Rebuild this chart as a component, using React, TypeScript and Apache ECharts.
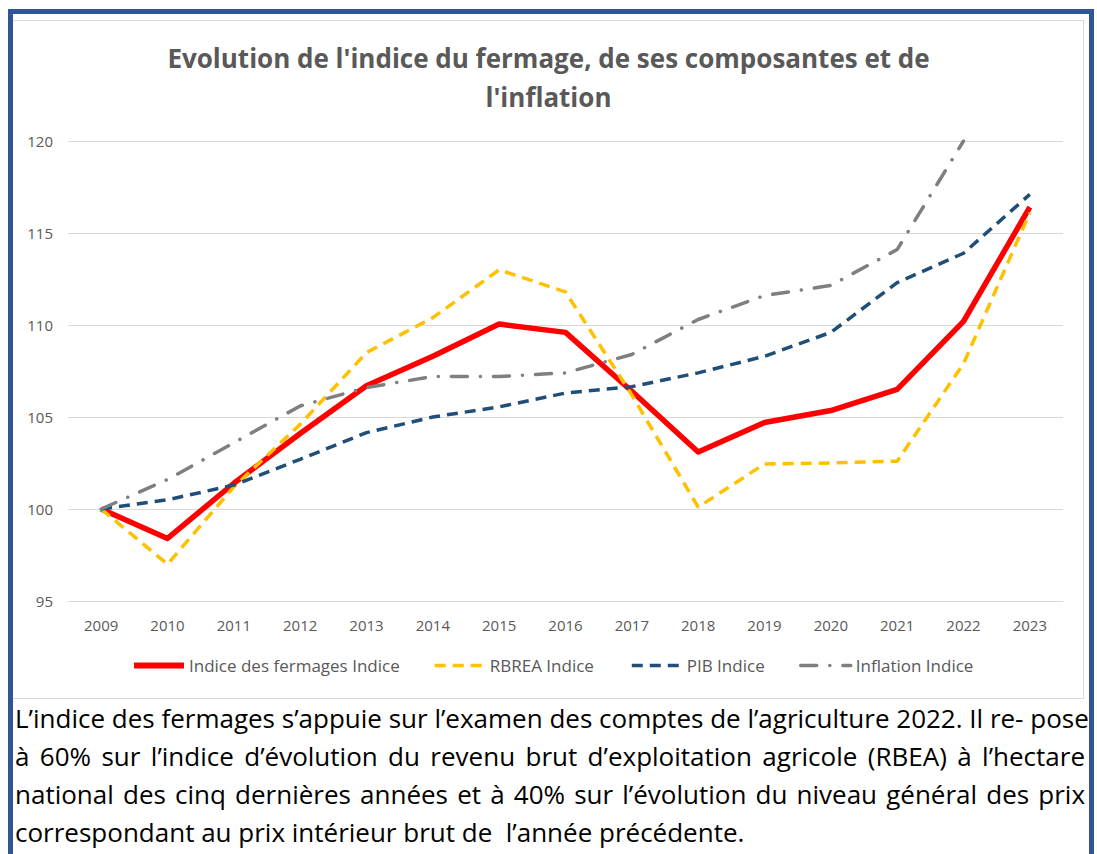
import React, { useEffect, useRef } from "react";
import * as echarts from "echarts";

const years = ["2009", "2010", "2011", "2012", "2013", "2014", "2015", "2016", "2017", "2018", "2019", "2020", "2021", "2022", "2023"];
const fermages = [100, 98.4, 101.4, 104.1, 106.7, 108.3, 110.05, 109.6, 106.4, 103.1, 104.7, 105.35, 106.5, 110.2, 116.4];
const rbrea = [100, 97.0, 101.2, 104.6, 108.5, 110.4, 113.0, 111.8, 106.2, 100.1, 102.45, 102.5, 102.6, 107.9, 116.1];
const pib = [100, 100.5, 101.3, 102.7, 104.15, 105.0, 105.55, 106.3, 106.65, 107.4, 108.3, 109.6, 112.3, 113.9, 117.1];
const inflation: (number | null)[] = [100, 101.6, 103.6, 105.6, 106.6, 107.2, 107.2, 107.4, 108.4, 110.3, 111.6, 112.15, 114.1, 120.0, null];

const seriesNames = ["Indice des fermages Indice", "RBREA Indice", "PIB Indice", "Inflation Indice"];
const yTicks = { min: 95, max: 120, interval: 5 };

const titleLines = ["Evolution de l'indice du fermage, de ses composantes et de", "l'inflation"];
const noteLines = [
  "L’indice des fermages s’appuie sur l’examen des comptes de l’agriculture 2022. Il re- pose",
  "à 60% sur l’indice d’évolution du revenu brut d’exploitation agricole (RBEA) à l’hectare",
  "national des cinq dernières années et à 40% sur l’évolution du niveau général des prix",
  "correspondant au prix intérieur brut de  l’année précédente.",
];

const FONT = "'Open Sans', 'Noto Sans', sans-serif";
const GREY_TEXT = "#595959";

export default function App() {
  const ref = useRef<HTMLDivElement>(null);

  useEffect(() => {
    if (!ref.current) return;
    const chart = echarts.init(ref.current, null, { renderer: "svg" });
    const legendLefts = [131, 433, 630, 799];
    const legendLineWidths = [6, 3.5, 3.5, 3.5];
    const titleTops = [40, 79];
    chart.setOption({
      animation: false,
      backgroundColor: "transparent",
      textStyle: { fontFamily: FONT },
      title: titleLines.map((t, i) => ({
        text: t,
        left: "center",
        top: titleTops[i],
        padding: 0,
        textStyle: {
          fontFamily: FONT,
          fontSize: 26,
          fontWeight: "bold",
          color: GREY_TEXT,
          lineHeight: 36,
        },
      })),
      legend: seriesNames.map((n, i) => ({
        data: [n],
        left: legendLefts[i],
        top: 657,
        padding: 0,
        itemWidth: 50,
        itemHeight: 14,
        itemStyle: { opacity: 0 },
        lineStyle: { width: legendLineWidths[i] },
        textStyle: { fontFamily: FONT, fontSize: 17, color: GREY_TEXT },
      })),
      grid: { left: 68, right: 34, top: 141, bottom: 253, containLabel: false },
      xAxis: {
        type: "category",
        data: years,
        boundaryGap: true,
        axisLine: { show: true, lineStyle: { color: "#D9D9D9", width: 1 } },
        axisTick: { show: false },
        axisLabel: { color: GREY_TEXT, fontSize: 15, fontFamily: FONT, margin: 16 },
      },
      yAxis: {
        type: "value",
        min: yTicks.min,
        max: yTicks.max,
        interval: yTicks.interval,
        axisLine: { show: false },
        axisTick: { show: false },
        splitLine: { lineStyle: { color: "#D9D9D9", width: 1 } },
        axisLabel: { color: GREY_TEXT, fontSize: 15, fontFamily: FONT, margin: 15 },
      },
      series: [
        {
          name: seriesNames[0],
          type: "line",
          data: fermages,
          symbol: "none",
          color: "#FF0000",
          lineStyle: { color: "#FF0000", width: 5.5, join: "round" },
        },
        {
          name: seriesNames[1],
          type: "line",
          data: rbrea,
          symbol: "none",
          color: "#FFC000",
          lineStyle: { color: "#FFC000", width: 3.5, type: [11, 7] },
        },
        {
          name: seriesNames[2],
          type: "line",
          data: pib,
          symbol: "none",
          color: "#1F4E79",
          lineStyle: { color: "#1F4E79", width: 3.5, type: [11, 7] },
        },
        {
          name: seriesNames[3],
          type: "line",
          data: inflation,
          symbol: "none",
          color: "#7F7F7F",
          connectNulls: false,
          lineStyle: { color: "#7F7F7F", width: 3.5, type: [16, 13, 0.1, 13], cap: "round" },
        },
      ],
    });
    return () => chart.dispose();
  }, []);

  return (
    <div style={{ position: "absolute", left: 0, top: 0, width: 1097, height: 854, overflow: "hidden", background: "#fff" }}>
      <div
        style={{
          position: "absolute",
          left: 8,
          top: 9,
          width: 1076,
          height: 900,
          border: "5px solid #2F5597",
        }}
      />
      <div
        style={{
          position: "absolute",
          left: 13,
          top: 20,
          width: 1070,
          height: 677,
          border: "1px solid #D9D9D9",
          borderLeft: "none",
        }}
      />
      <div
        style={{
          position: "absolute",
          left: 15,
          top: 699,
          width: 1070,
          fontFamily: FONT,
          fontSize: 26,
          lineHeight: "38px",
          color: "#000",
        }}
      >
        {noteLines.map((l, i) => (
          <div
            key={i}
            style={{
              whiteSpace: "pre",
              textAlign: i < noteLines.length - 1 ? "justify" : "left",
              textAlignLast: i < noteLines.length - 1 ? "justify" : "left",
            }}
          >
            {l}
          </div>
        ))}
      </div>
      <div ref={ref} style={{ position: "absolute", left: 0, top: 0, width: 1097, height: 854 }} />
    </div>
  );
}
